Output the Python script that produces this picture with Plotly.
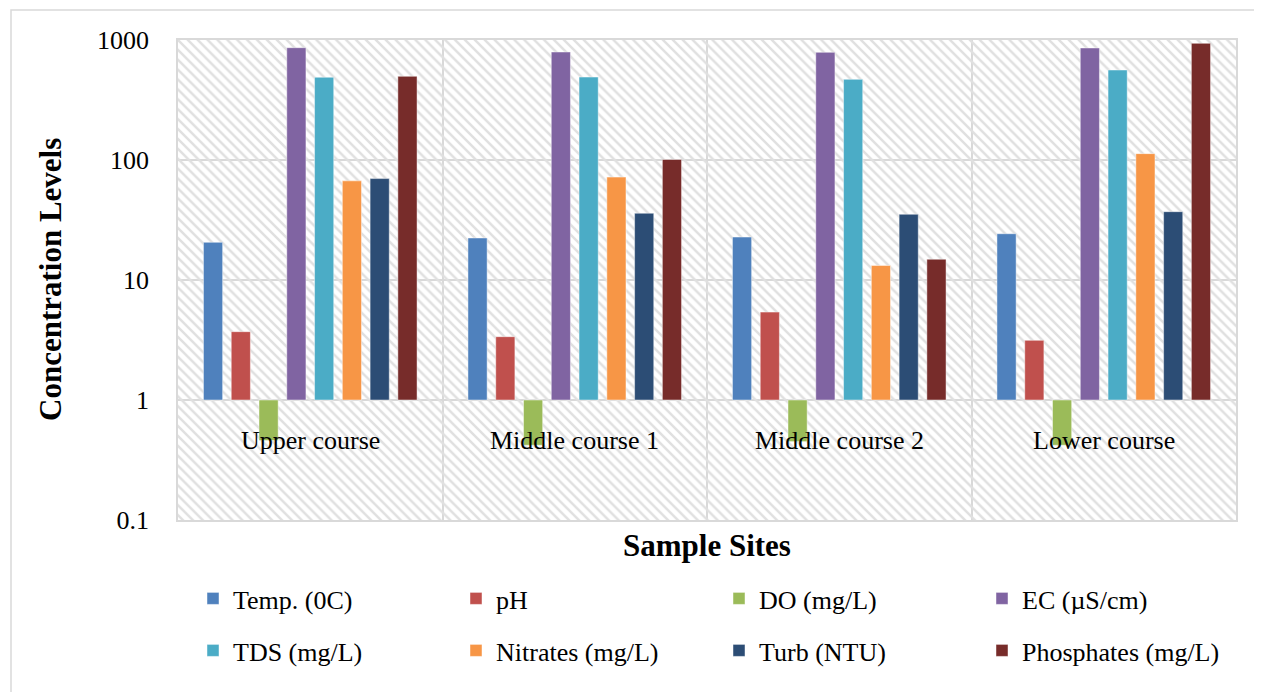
import plotly.graph_objects as go

sites = ["Upper course", "Middle course 1", "Middle course 2", "Lower course"]
params = ["Temp. (0C)", "pH", "DO (mg/L)", "EC (µS/cm)",
          "TDS (mg/L)", "Nitrates (mg/L)", "Turb (NTU)", "Phosphates (mg/L)"]
temp = [20.6, 22.4, 22.8, 24.3]
ph = [3.71, 3.37, 5.4, 3.14]
do = [0.46, 0.42, 0.45, 0.42]
ec = [863, 794, 789, 858]
tds = [489, 491, 470, 562]
nitrates = [67, 72, 13.2, 113]
turb = [70, 36, 35.3, 37.1]
phosphates = [498, 101, 14.9, 938]
series = [temp, ph, do, ec, tds, nitrates, turb, phosphates]
colors = ["#4F81BD", "#C0504D", "#9BBB59", "#8064A2",
          "#4BACC6", "#F79646", "#2C4D75", "#772C2A"]
tickvals = [0.1, 1, 10, 100, 1000]
ticktext = ["0.1", "1", "10", "100", "1000"]
BASE = 1

FONT = "Liberation Serif, Times New Roman, serif"

fig = go.Figure()

# hatched plot-area background (on hidden base axes, below the data)
fig.add_trace(go.Bar(
    x=[0.5], y=[1], width=[1], base=[0], xaxis="x", yaxis="y",
    marker=dict(color="rgba(0,0,0,0)", line=dict(width=0),
                pattern=dict(shape="\\", fgcolor="#e0e0e0", bgcolor="rgba(0,0,0,0)",
                             size=7, solidity=0.35, fillmode="replace")),
    showlegend=False, hoverinfo="skip"))

for i, (name, vals, col) in enumerate(zip(params, series, colors)):
    fig.add_trace(go.Bar(
        name=name, x=sites, y=[v - BASE for v in vals], base=[BASE] * len(vals),
        customdata=vals, hovertemplate="%{x}<br>" + name + ": %{customdata}<extra></extra>",
        xaxis="x2", yaxis="y2",
        marker=dict(color=col, line=dict(width=1, color="rgba(255,255,255,0.45)")),
        legend="legend" if i < 4 else "legend2"))

# page offset of the figure inside the html body (default body margin)
OFF = 8
W, H = 1262 - OFF, 692 - OFF
L, T = 178 - OFF, 40 - OFF
R = 26
B = H - (520 - OFF)
pw, ph_ = W - L - R, H - T - B

def px(xpage):
    return (xpage - OFF - L) / pw

def py(ypage):
    return (H - B - (ypage - OFF)) / ph_

annotations = [dict(x=s, y=0, xref="x2", yref="y2", text=s, showarrow=False,
                    yanchor="top", yshift=-24, font=dict(family=FONT, size=26, color="black"))
               for s in sites]
annotations.append(dict(x=0.5, y=py(545), xref="paper", yref="paper", text="<b>Sample Sites</b>",
                        showarrow=False, xanchor="center", yanchor="middle",
                        font=dict(family=FONT, size=31, color="black")))
annotations.append(dict(x=px(50), y=py(280), xref="paper", yref="paper",
                        text="<b>Concentration Levels</b>", textangle=-90,
                        showarrow=False, xanchor="center", yanchor="middle",
                        font=dict(family=FONT, size=31, color="black")))

legend_common = dict(orientation="h", font=dict(family=FONT, size=26, color="black"),
                     entrywidth=218, entrywidthmode="pixels", bgcolor="rgba(0,0,0,0)",
                     borderwidth=0, xanchor="left", yanchor="top", itemclick=False,
                     itemdoubleclick=False)

fig.update_layout(
    width=W, height=H,
    margin=dict(l=L, r=R, t=T, b=B, autoexpand=False),
    paper_bgcolor="white", plot_bgcolor="white",
    barmode="group", bargap=0.16, bargroupgap=0.31,
    xaxis=dict(range=[0, 1], visible=False, fixedrange=True),
    yaxis=dict(range=[0, 1], visible=False, fixedrange=True),
    xaxis2=dict(overlaying="x", type="category", showticklabels=False, ticks="",
                tickson="boundaries", showgrid=True, gridcolor="#d9d9d9", gridwidth=1.5,
                showline=True, linecolor="#d9d9d9", linewidth=1.5, mirror=True,
                zeroline=False, anchor="y2"),
    yaxis2=dict(overlaying="y", type="log", range=[-1, 3], tickvals=tickvals, ticktext=ticktext,
                showgrid=True, gridcolor="#d9d9d9", gridwidth=1.5, ticks="",
                ticklabelstandoff=22,
                showline=True, linecolor="#d9d9d9", linewidth=1.5, mirror=True,
                zeroline=False, side="left", anchor="x2",
                tickfont=dict(family=FONT, size=26, color="black")),
    legend=dict(x=px(193), y=py(575), **legend_common),
    legend2=dict(x=px(193), y=py(627), **legend_common),
    annotations=annotations,
    shapes=[dict(type="rect", xref="paper", yref="paper", x0=px(11), x1=px(1275),
                 y0=py(10), y1=py(705), line=dict(color="#d9d9d9", width=1.5),
                 fillcolor="rgba(0,0,0,0)", layer="below")],
    showlegend=True,
)

fig.write_html("out.html")
